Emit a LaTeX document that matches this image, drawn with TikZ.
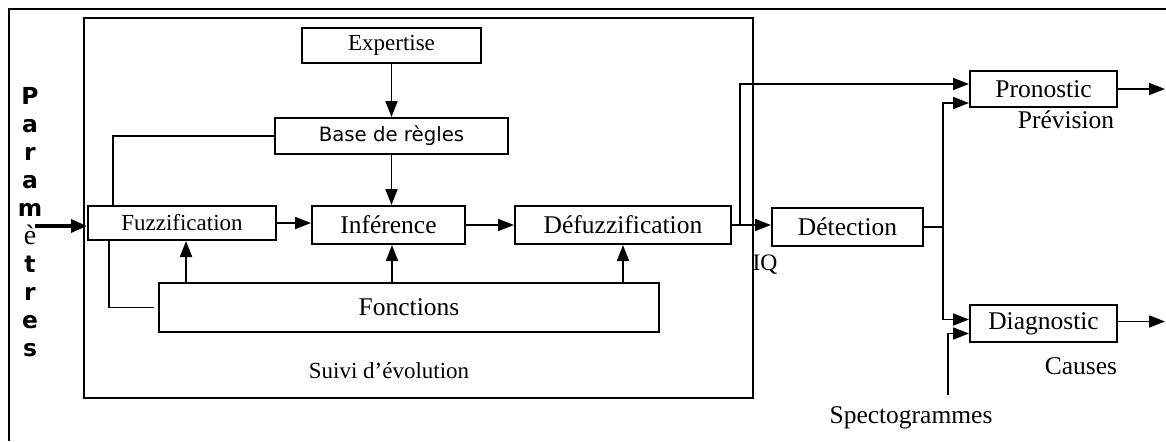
\documentclass[tikz,border=0pt]{standalone}
\usepackage{fontspec}
\setmainfont{Liberation Serif}
\newfontfamily\versans{DejaVu Sans}
\usetikzlibrary{arrows.meta}

\tikzset{
    blk/.style={draw, line width=1pt, rectangle, inner sep=0pt, font=\fontsize{12.75}{15}\selectfont},
    blksmall/.style={blk, font=\fontsize{11.5}{14}\selectfont},
    lbl/.style={inner sep=0pt, font=\fontsize{12.75}{15}\selectfont},
    fl/.style={line width=0.9pt, -{Triangle[length=8pt,width=6pt]}},
    ln/.style={line width=0.9pt}
}

\begin{document}
\begin{tikzpicture}[x=0.5pt, y=-0.5pt]
    \useasboundingbox (0,0) rectangle (1166,441);
    % cadres
    \draw [line width=0.8pt] (1166,9) -- (9,9) -- (9,441);
    \draw [line width=0.8pt] (84,18) rectangle (753,398);

    % blocs du suivi
    \node [blksmall, minimum width=89.5pt, minimum height=17.5pt] (expert) at (391.5,45.5) {Expertise};
    \node [blk, minimum width=116.5pt, minimum height=18pt, font=\versans\fontsize{9.85}{12}\selectfont] (base) at (391.5,136) {Base de règles};
    \node [blksmall, minimum width=94pt, minimum height=17pt] (fuzz) at (182,223) {Fuzzification};
    \node [blk, minimum width=76.5pt, minimum height=19pt] (infer) at (388.5,225) {Inférence};
    \node [blk, minimum width=108pt, minimum height=19pt] (defuzz) at (623,225) {Défuzzification};
    \node [blk, minimum width=250pt, minimum height=24.5pt] (fonct) at (409,307.5) {Fonctions};
    \node [lbl, font=\fontsize{11.5}{14}\selectfont] (suivi) at (389,371) {Suivi d’évolution};

    % blocs de sortie
    \node [blk, minimum width=75.5pt, minimum height=19pt] (detect) at (847.5,227) {Détection};
    \node [blk, minimum width=73.5pt, minimum height=18pt] (prono) at (1043.5,89) {Pronostic};
    \node [blk, minimum width=73.5pt, minimum height=18.5pt] (diag) at (1043.5,323.5) {Diagnostic};
    \node [lbl, font=\fontsize{11.8}{14}\selectfont] (iq) at (765,265) {IQ};
    \node [lbl] (prev) at (1066,120) {Prévision};
    \node [lbl] (causes) at (1081,366) {Causes};
    \node [lbl] (spectro) at (911,418) {Spectogrammes};

    % entree
    \node [inner sep=0pt, align=center, font=\versans\bfseries\fontsize{11.7}{14}\selectfont] (param) at (30,222)
        {P\\a\\r\\a\\m\\{\rmfamily\mdseries\fontsize{14}{14}\selectfont è}\\t\\r\\e\\s};
    \coordinate (inp) at (35,226);
    \coordinate (spin) at (948,395);
    \coordinate (outp) at (1165,90);

    % liaisons
    \draw [line width=1.6pt, -{Triangle[length=8pt,width=6.5pt]}] (inp) -- (inp -| fuzz.west);
    \draw [fl] (expert) -- (base);
    \draw [fl] (base) -- (base |- infer.north);
    \draw [fl] (fuzz.east) -- (fuzz.east -| infer.west);
    \draw [fl] (infer.east) -- (infer.east -| defuzz.west);
    \draw [fl] (defuzz.east) -- (defuzz.east -| detect.west);
    \draw [fl] (fonct.north -| fuzz) ++(2pt,0) -- ([xshift=2pt]fuzz.south);
    \draw [fl] ([xshift=1.75pt]fonct.north -| infer) -- ([xshift=1.75pt]infer.south);
    \draw [fl] (fonct.north -| defuzz) -- (defuzz.south);
    \draw [ln] (base.west) -| ([xshift=13pt]fuzz.north west);
    \draw [ln] ([xshift=11pt]fuzz.south west) |- ([xshift=-2pt]fonct.west);
    \draw [fl] ([xshift=4pt]defuzz.east) |- ([yshift=2.5pt]prono.west);
    \draw [ln] (detect.east) -- ++(9.5pt,0) coordinate (split);
    \draw [fl] (split) |- ([yshift=-7pt]prono.west);
    \draw [fl] (split) |- ([yshift=2pt]diag.west);
    \draw [fl] (spin) |- ([yshift=-5pt]diag.west);
    \draw [fl] (prono.east) -- (prono.east -| outp);
    \draw [fl] ([yshift=1pt]diag.east) -- ([yshift=1pt]diag.east -| outp);
\end{tikzpicture}
\end{document}
